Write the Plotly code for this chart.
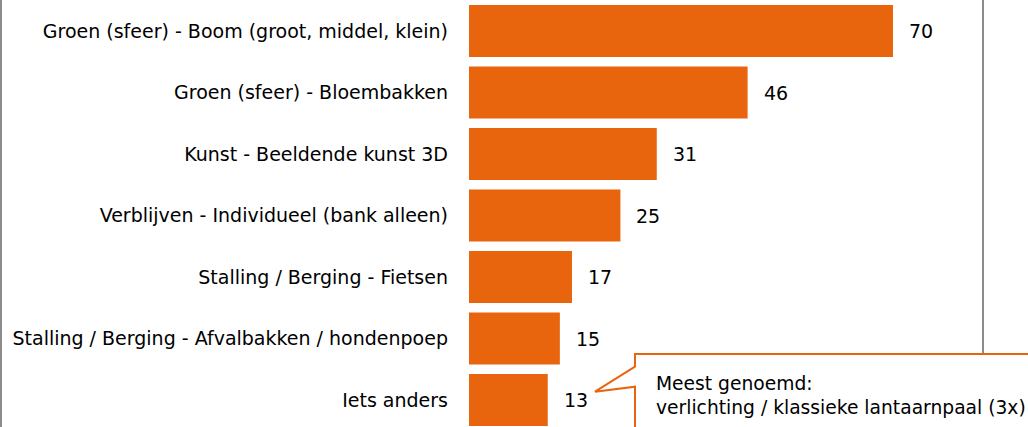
import plotly.graph_objects as go

categories = [
    "Groen (sfeer) - Boom (groot, middel, klein)",
    "Groen (sfeer) - Bloembakken",
    "Kunst - Beeldende kunst 3D",
    "Verblijven - Individueel (bank alleen)",
    "Stalling / Berging - Fietsen",
    "Stalling / Berging - Afvalbakken / hondenpoep",
    "Iets anders",
]
values = [70, 46, 31, 25, 17, 15, 13]
callout_text = "Meest genoemd:<br>verlichting / klassieke lantaarnpaal (3x)"

W, H = 1028, 427
L = 469
PX_PER_UNIT = 6.057
ROW = 61.5
Y0 = 31
FONT = "DejaVu Sans"
FS = 19
ORANGE = "#E8650D"


def px2x(px):
    return (px - L) / PX_PER_UNIT


def py2y(py):
    return (py - Y0) / ROW


idx = list(range(len(categories)))

fig = go.Figure()
fig.add_trace(go.Bar(
    x=values, y=idx, orientation="h",
    marker=dict(color=ORANGE, line=dict(width=0)),
    width=52 / ROW,
    hoverinfo="skip",
))

for i, v in zip(idx, values):
    fig.add_annotation(x=v, y=i, text=str(v), showarrow=False,
                       xanchor="left", xshift=14,
                       font=dict(family=FONT, size=FS, color="#000"))

# gray frame lines
for px in (1, 983):
    fig.add_shape(type="line", xref="paper", yref="paper",
                  x0=(px - L) / (W - L), x1=(px - L) / (W - L), y0=0, y1=1,
                  line=dict(color="#8c8c8c", width=2))

# callout bubble
path = (f"M {px2x(635)},{py2y(366.7)} L {px2x(595)},{py2y(391.7)} "
        f"L {px2x(635)},{py2y(386.7)} L {px2x(635)},{py2y(460)} "
        f"L {px2x(1100)},{py2y(460)} L {px2x(1100)},{py2y(354)} "
        f"L {px2x(635)},{py2y(354)} Z")
fig.add_shape(type="path", xref="x", yref="y", path=path,
              line=dict(color=ORANGE, width=2), fillcolor="white", layer="above")
fig.add_annotation(x=px2x(654), y=py2y(395.5), text=callout_text, showarrow=False,
                   xanchor="left", yanchor="middle", align="left",
                   font=dict(family=FONT, size=FS - 0.3, color="#000"))

fig.update_layout(
    width=W, height=H,
    margin=dict(l=L, r=0, t=0, b=0),
    plot_bgcolor="white", paper_bgcolor="white",
    showlegend=False,
    font=dict(family=FONT, size=FS, color="#000"),
    xaxis=dict(range=[0, (W - L) / PX_PER_UNIT], visible=False, fixedrange=True),
    yaxis=dict(range=[py2y(H), py2y(0)], tickvals=idx, ticktext=categories,
               showgrid=False, zeroline=False, showline=False, ticks="",
               ticklabelstandoff=20, fixedrange=True,
               tickfont=dict(family=FONT, size=FS, color="#000")),
)

fig.write_html("out.html", config={"displayModeBar": False},
               post_script="document.body.style.margin='0px';")
